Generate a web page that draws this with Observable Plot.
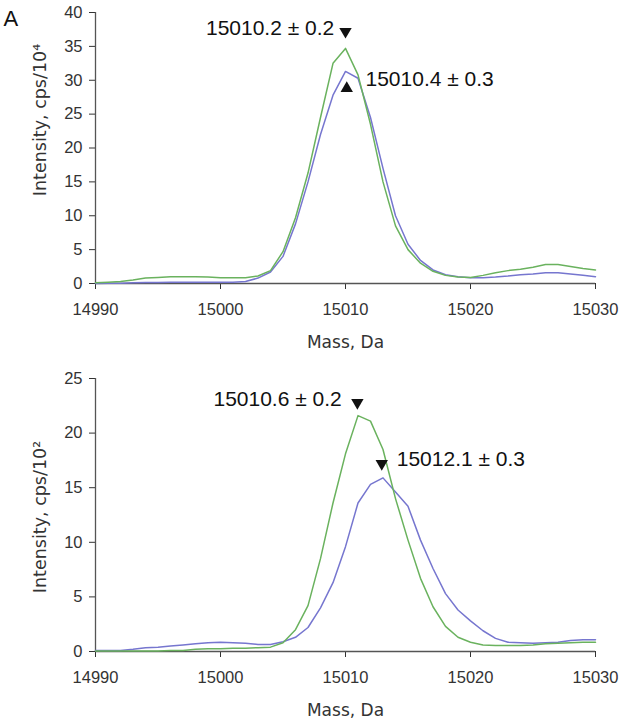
<!DOCTYPE html>
<html>
<head>
<meta charset="utf-8">
<script src="https://cdn.jsdelivr.net/npm/d3@7"></script>
<script src="https://cdn.jsdelivr.net/npm/@observablehq/plot@0.6"></script>
<style>
  html, body { margin: 0; padding: 0; background: #fff; }
  #wrap { position: relative; width: 621px; height: 721px; }
  #wrap svg { display: block; }
</style>
</head>
<body>
<div id="wrap"></div>
<script>
// ---------- data ----------
const mass = [14990,14991,14992,14993,14994,14995,14996,14997,14998,14999,
  15000,15001,15002,15003,15004,15005,15006,15007,15008,15009,
  15010,15011,15012,15013,15014,15015,15016,15017,15018,15019,
  15020,15021,15022,15023,15024,15025,15026,15027,15028,15029,15030];

// Panel 1 (cps/10^4)
const greenTop = [0.1,0.2,0.3,0.5,0.8,0.9,1.0,1.0,1.0,0.95,
  0.85,0.85,0.85,1.1,1.9,4.7,9.7,16.3,24.5,32.5,
  34.7,30.8,23.5,15.0,8.5,5.0,3.0,1.8,1.2,0.95,
  0.9,1.2,1.6,1.9,2.1,2.4,2.8,2.8,2.5,2.2,2.0];
const blueTop = [0.0,0.05,0.05,0.1,0.15,0.15,0.2,0.2,0.2,0.2,
  0.2,0.2,0.3,0.8,1.7,4.0,8.8,15.0,22.0,27.8,
  31.3,30.3,24.5,17.0,10.0,5.8,3.4,2.0,1.3,1.0,
  0.85,0.85,0.95,1.1,1.3,1.4,1.6,1.6,1.4,1.2,1.0];

// Panel 2 (cps/10^2)
const greenBottom = [0.05,0.05,0.05,0.05,0.05,0.05,0.1,0.1,0.2,0.25,
  0.25,0.3,0.3,0.35,0.4,0.8,2.0,4.2,8.5,13.6,
  18.1,21.6,21.1,18.5,14.0,10.2,6.7,4.1,2.3,1.3,
  0.85,0.6,0.55,0.55,0.55,0.6,0.7,0.75,0.8,0.85,0.85];
const blueBottom = [0.1,0.1,0.1,0.2,0.35,0.4,0.5,0.6,0.7,0.8,
  0.85,0.8,0.75,0.65,0.65,0.9,1.3,2.2,4.0,6.3,
  9.6,13.6,15.3,15.9,14.6,13.3,10.2,7.6,5.3,3.8,
  2.8,1.9,1.2,0.85,0.8,0.76,0.8,0.85,1.0,1.07,1.07];

const xTicks = [14990, 15000, 15010, 15020, 15030];
const yTicksTop = [0, 5, 10, 15, 20, 25, 30, 35, 40];
const yTicksBottom = [0, 5, 10, 15, 20, 25];

const xLabel = "Mass, Da";
const yLabelTop = "Intensity, cps/10\u2074";
const yLabelBottom = "Intensity, cps/10\u00b2";

// annotations: text, anchor mass, value
const annTopText = ["15010.2 \u00b1 0.2", "15010.4 \u00b1 0.3"];
const annTopX = [15009.1, 15011.6];
const annTopY = [37.6, 30.1];
const annTopAnchor = ["end", "start"];
const markTopX = [15010.0, 15010.1];
const markTopY = [37.2, 28.8];
const markTopRot = [180, 0];

const annBotText = ["15010.6 \u00b1 0.2", "15012.1 \u00b1 0.3"];
const annBotX = [15009.7, 15014.1];
const annBotY = [23.1, 17.6];
const annBotAnchor = ["end", "start"];
const markBotX = [15010.95, 15012.9];
const markBotY = [22.8, 17.2];
const markBotRot = [180, 180];

const GREEN = "#6ab25e";
const BLUE = "#7676cf";
const AXIS = "#555";
const TXT = "#333";
const ANN_FONT = "Liberation Sans, Arial, sans-serif";

function panel({green, blue, yDomain, yTicks, yLabel, yLabelDy, height, mTop, mBottom,
                annText, annX, annY, annAnchor, markX, markY, markRot, panelLetter}) {
  const ann = annText.map((t, i) => ({t, x: annX[i], y: annY[i], a: annAnchor[i]}));
  const marks = markX.map((x, i) => ({x, y: markY[i], r: markRot[i]}));
  const g = mass.map((m, i) => ({m, v: green[i]}));
  const b = mass.map((m, i) => ({m, v: blue[i]}));
  const extra = [];
  if (panelLetter) {
    extra.push(Plot.text([panelLetter], {frameAnchor: "top-left", dx: -92, dy: 6,
      textAnchor: "start", lineAnchor: "middle", fontSize: 22,
      fontFamily: ANN_FONT, fill: "#111"}));
  }
  return Plot.plot({
    width: 621,
    height,
    marginLeft: 95,
    marginRight: 26,
    marginTop: mTop,
    marginBottom: mBottom,
    style: {fontFamily: "Liberation Sans, Arial, sans-serif", fontSize: "16.5px", color: TXT, background: "#fff"},
    x: {domain: [14990, 15030], ticks: xTicks, tickSize: 6, tickPadding: 14, tickFormat: d => String(d), label: null},
    y: {domain: yDomain, ticks: yTicks, tickSize: 6, tickPadding: 7, label: null},
    marks: [
      Plot.ruleY([yDomain[0]], {stroke: AXIS, strokeWidth: 1.3}),
      Plot.ruleX([14990], {stroke: AXIS, strokeWidth: 1.3}),
      Plot.line(b, {x: "m", y: "v", stroke: BLUE, strokeWidth: 1.5}),
      Plot.line(g, {x: "m", y: "v", stroke: GREEN, strokeWidth: 1.5}),
      Plot.dot(marks, {x: "x", y: "y", rotate: "r", symbol: "triangle", r: 4.6, fill: "#111", stroke: "none"}),
      Plot.text(ann.filter(d => d.a === "end"), {x: "x", y: "y", text: "t", textAnchor: "end", lineAnchor: "middle",
        fontSize: 21, fontFamily: ANN_FONT, fill: "#111"}),
      Plot.text(ann.filter(d => d.a === "start"), {x: "x", y: "y", text: "t", textAnchor: "start", lineAnchor: "middle",
        fontSize: 21, fontFamily: ANN_FONT, fill: "#111"}),
      Plot.text([xLabel], {frameAnchor: "bottom", dy: 59, textAnchor: "middle", lineAnchor: "middle",
        fontSize: 17, fontFamily: "DejaVu Sans, Verdana, sans-serif", fill: TXT}),
      Plot.text([yLabel], {frameAnchor: "left", dx: -55, dy: yLabelDy, rotate: -90, textAnchor: "middle", lineAnchor: "middle",
        fontSize: 17.5, fontFamily: "DejaVu Sans, Verdana, sans-serif", fill: TXT}),
      ...extra
    ]
  });
}

const wrap = document.getElementById("wrap");
wrap.appendChild(panel({
  green: greenTop, blue: blueTop, yDomain: [0, 40], yTicks: yTicksTop, yLabel: yLabelTop, yLabelDy: -28,
  height: 360, mTop: 12, mBottom: 77,
  annText: annTopText, annX: annTopX, annY: annTopY, annAnchor: annTopAnchor,
  markX: markTopX, markY: markTopY, markRot: markTopRot, panelLetter: "A"
}));
wrap.appendChild(panel({
  green: greenBottom, blue: blueBottom, yDomain: [0, 25], yTicks: yTicksBottom, yLabel: yLabelBottom, yLabelDy: 2,
  height: 361, mTop: 18, mBottom: 70,
  annText: annBotText, annX: annBotX, annY: annBotY, annAnchor: annBotAnchor,
  markX: markBotX, markY: markBotY, markRot: markBotRot, panelLetter: null
}));
</script>
</body>
</html>
